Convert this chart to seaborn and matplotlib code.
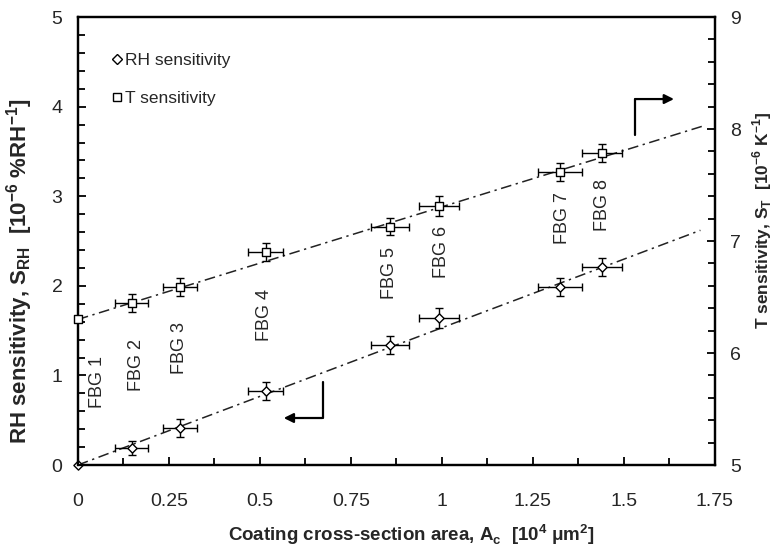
import numpy as np
import pandas as pd
import matplotlib
matplotlib.use('Agg')
import matplotlib.pyplot as plt
import seaborn as sns
from matplotlib.ticker import MultipleLocator
from matplotlib.lines import Line2D

# values
fbg = ['FBG 1', 'FBG 2', 'FBG 3', 'FBG 4', 'FBG 5', 'FBG 6', 'FBG 7', 'FBG 8']
area = [0.0, 0.148, 0.28, 0.516, 0.857, 0.992, 1.324, 1.44]
area_err = [0.0, 0.045, 0.047, 0.048, 0.052, 0.055, 0.06, 0.056]
s_rh = [0.0, 0.19, 0.41, 0.83, 1.34, 1.64, 1.99, 2.21]
s_rh_err = [0.0, 0.08, 0.10, 0.10, 0.10, 0.11, 0.10, 0.10]
s_t = [6.30, 6.45, 6.59, 6.90, 7.13, 7.31, 7.62, 7.79]
s_t_err = [0.0, 0.08, 0.08, 0.08, 0.08, 0.09, 0.08, 0.08]

# linear fits as drawn (end points)
fit_rh_x = [0.0, 1.71]
fit_rh_y = [0.0, 2.62]
fit_t_x = [0.0, 1.72]
fit_t_y = [6.30, 8.03]

# label positions (x, left-axis y)
lab_x = [0.055, 0.162, 0.280, 0.514, 0.857, 1.0, 1.33, 1.442]
lab_y = [0.93, 1.12, 1.31, 1.68, 2.14, 2.38, 2.76, 2.90]

df = pd.DataFrame({'fbg': fbg, 'area': area, 'area_err': area_err,
                   's_rh': s_rh, 's_rh_err': s_rh_err, 's_t': s_t, 's_t_err': s_t_err})

sns.set_theme(style='ticks')
plt.rcParams['font.family'] = ['Liberation Sans', 'DejaVu Sans']
plt.rcParams['mathtext.fontset'] = 'custom'
plt.rcParams['mathtext.rm'] = 'Liberation Sans'
plt.rcParams['mathtext.bf'] = 'Liberation Sans:bold'

fig = plt.figure(figsize=(7.78, 5.51), dpi=100)
ax = fig.add_axes([0.100, 0.156, 0.819, 0.813])
ax2 = ax.twinx()

dash = (0, (7, 3, 1.5, 3))
sns.lineplot(x=fit_rh_x, y=fit_rh_y, ax=ax, color='#222222', lw=1.1, linestyle=dash)
sns.lineplot(x=fit_t_x, y=fit_t_y, ax=ax2, color='#222222', lw=1.1, linestyle=dash)

e = df[df.area_err > 0]
ax.errorbar(e.area, e.s_rh, xerr=e.area_err, yerr=e.s_rh_err, fmt='none',
            ecolor='black', elinewidth=1.0, capsize=3, capthick=1.0)
ax2.errorbar(e.area, e.s_t, xerr=e.area_err, yerr=e.s_t_err, fmt='none',
             ecolor='black', elinewidth=1.0, capsize=3, capthick=1.0)

sns.scatterplot(data=df, x='area', y='s_rh', marker='D', s=22, facecolor='white',
                edgecolor='black', linewidth=1.0, ax=ax, zorder=5, clip_on=False)
sns.scatterplot(data=df, x='area', y='s_t', marker='s', s=30, facecolor='white',
                edgecolor='black', linewidth=1.0, ax=ax2, zorder=5, clip_on=False)

for t, x, y in zip(fbg, lab_x, lab_y):
    ax.text(x, y, t, rotation=90, ha='center', va='center', fontsize=13)

# direction arrows
ax.plot([1.53, 1.53], [3.68, 4.085], color='black', lw=1.6)
ax.annotate('', xy=(1.645, 4.085), xytext=(1.524, 4.085),
            arrowprops=dict(arrowstyle='-|>', color='black', lw=1.6, mutation_scale=14))
ax.plot([0.673, 0.673], [0.926, 0.525], color='black', lw=1.6)
ax.annotate('', xy=(0.558, 0.525), xytext=(0.679, 0.525),
            arrowprops=dict(arrowstyle='-|>', color='black', lw=1.6, mutation_scale=14))

ax.set_xlim(0, 1.75)
ax.set_ylim(0, 5)
ax2.set_ylim(5, 9)
ax.xaxis.set_major_locator(MultipleLocator(0.25))
ax.xaxis.set_minor_locator(MultipleLocator(0.125))
ax.yaxis.set_major_locator(MultipleLocator(1))
ax.yaxis.set_minor_locator(MultipleLocator(0.2))
ax2.yaxis.set_major_locator(MultipleLocator(1))
ax2.yaxis.set_minor_locator(MultipleLocator(0.2))
ax.set_xticks([0, 0.25, 0.5, 0.75, 1, 1.25, 1.5, 1.75],
              ['0', '0.25', '0.5', '0.75', '1', '1.25', '1.5', '1.75'])

ax.tick_params(axis='x', which='both', direction='in', top=False, pad=20, labelsize=14)
ax.tick_params(axis='y', which='both', direction='in', right=False, pad=11, labelsize=14)
ax2.tick_params(axis='y', which='both', direction='in', left=False, pad=11, labelsize=14)
for a in (ax, ax2):
    a.tick_params(which='major', length=6, width=1.3, color='black')
    a.tick_params(which='minor', length=5, width=1.3, color='black')
    for s in a.spines.values():
        s.set_linewidth(1.6)
        s.set_color('black')

ax.set_xlabel(r'Coating cross-section area, A$_\mathbf{c}$  [10$^\mathbf{4}$ μm$^\mathbf{2}$]',
              fontsize=13.5, fontweight='bold')
ax.set_ylabel(r'RH sensitivity, S$_\mathbf{RH}$  [10$^\mathbf{-6}$ %RH$^\mathbf{-1}$]',
              fontsize=16, fontweight='bold')
ax2.set_ylabel(r'T sensitivity, S$_\mathbf{T}$  [10$^\mathbf{-6}$ K$^\mathbf{-1}$]',
               fontsize=12.5, fontweight='bold')
ax.xaxis.set_label_coords(0.524, -0.128)
ax.yaxis.set_label_coords(-0.067, 0.433)
ax2.yaxis.set_label_coords(1.056, 0.547)

handles = [Line2D([], [], marker='D', ls='none', ms=5, mfc='white', mec='black', mew=1.0),
           Line2D([], [], marker='s', ls='none', ms=5.5, mfc='white', mec='black', mew=1.0)]
ax.legend(handles, ['RH sensitivity', 'T sensitivity'], loc='upper left',
          bbox_to_anchor=(0.038, 0.94), frameon=False, fontsize=12.5,
          handlelength=0.7, handletextpad=0.15, labelspacing=1.35, borderpad=0)

fig.savefig('out.png', dpi=100)
